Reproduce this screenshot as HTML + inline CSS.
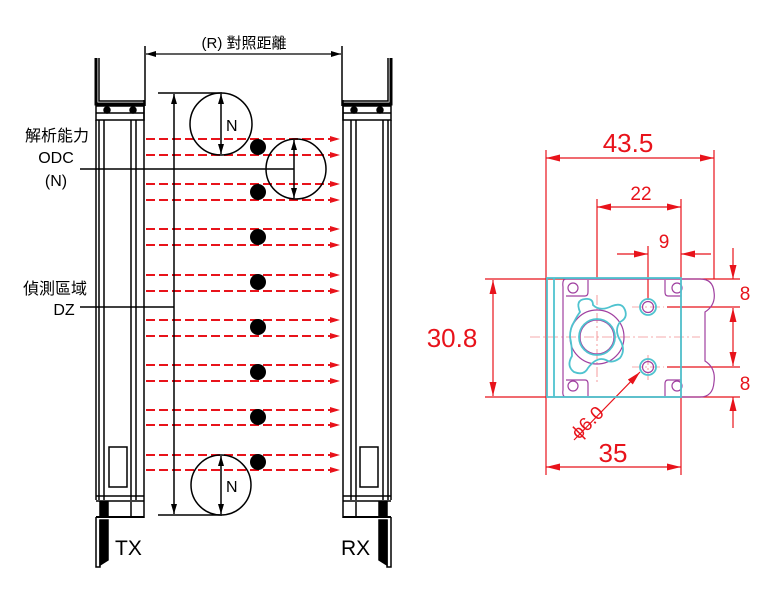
<!DOCTYPE html>
<html><head><meta charset="utf-8"><style>
html,body{margin:0;padding:0;background:#fff;width:782px;height:600px;overflow:hidden}
text{font-family:"Liberation Sans","Noto Sans CJK TC",sans-serif}
</style></head><body>
<svg width="782" height="600" viewBox="0 0 782 600" xmlns="http://www.w3.org/2000/svg">
<defs>
<marker id="ra" markerWidth="10" markerHeight="6" refX="10" refY="3" orient="auto" markerUnits="userSpaceOnUse"><path d="M0,0 L10,3 L0,6 z" fill="#e8131b"/></marker>
<marker id="ka" markerWidth="10" markerHeight="6" refX="10" refY="3" orient="auto-start-reverse" markerUnits="userSpaceOnUse"><path d="M0,0 L10,3 L0,6 z" fill="#000"/></marker>
<marker id="rd" markerWidth="14" markerHeight="7" refX="14" refY="3.5" orient="auto-start-reverse" markerUnits="userSpaceOnUse"><path d="M0,0 L14,3.5 L0,7 z" fill="#e8131b"/></marker>
<g id="bar" stroke="#000" stroke-width="1.5" fill="none">
<path d="M96,58 V104 H144" stroke-width="3"/>
<path d="M99,58 V101 H144"/>
<rect x="96" y="106" width="48" height="14"/>
<line x1="96" y1="113" x2="144" y2="113"/>
<circle cx="107" cy="110" r="3" fill="#000"/><circle cx="133" cy="110" r="3" fill="#000"/>
<line x1="96" y1="120" x2="96" y2="500"/><line x1="99" y1="120" x2="99" y2="500"/><line x1="104" y1="120" x2="104" y2="500"/>
<line x1="131" y1="120" x2="131" y2="500"/><line x1="136" y1="120" x2="136" y2="500"/><line x1="144" y1="100" x2="144" y2="518"/>
<rect x="109" y="447" width="18" height="40"/>
<line x1="96" y1="496" x2="144" y2="496"/><line x1="96" y1="501" x2="144" y2="501"/>
<rect x="100" y="502" width="8" height="15" fill="#000"/>
<line x1="131" y1="502" x2="131" y2="517"/>
<path d="M96,517 H144" stroke-width="2"/>
<path d="M96,517 V567 H100 V520" />
<path d="M100,520 H108 V560 L100,565 Z" fill="#000"/>
</g>
</defs>
<use href="#bar"/>
<use href="#bar" transform="translate(487,0) scale(-1,1)"/>
<line x1="145" y1="46" x2="145" y2="106" stroke="#000" stroke-width="1.5"/>
<line x1="342" y1="46" x2="342" y2="106" stroke="#000" stroke-width="1.5"/>
<line x1="146" y1="54" x2="341" y2="54" stroke="#000" stroke-width="1.2" marker-start="url(#ka)" marker-end="url(#ka)"/>
<text x="244" y="48" font-size="15" text-anchor="middle">(R) 對照距離</text>
<g stroke="#e8131b" stroke-width="2" stroke-dasharray="9,4" marker-end="url(#ra)">
<line x1="146" y1="139" x2="340" y2="139"/><line x1="146" y1="155" x2="340" y2="155"/>
<line x1="146" y1="184" x2="340" y2="184"/><line x1="146" y1="200" x2="340" y2="200"/>
<line x1="146" y1="229" x2="340" y2="229"/><line x1="146" y1="245" x2="340" y2="245"/>
<line x1="146" y1="275" x2="340" y2="275"/><line x1="146" y1="291" x2="340" y2="291"/>
<line x1="146" y1="320" x2="340" y2="320"/><line x1="146" y1="336" x2="340" y2="336"/>
<line x1="146" y1="365" x2="340" y2="365"/><line x1="146" y1="381" x2="340" y2="381"/>
<line x1="146" y1="410" x2="340" y2="410"/><line x1="146" y1="425" x2="340" y2="425"/>
<line x1="146" y1="455" x2="340" y2="455"/><line x1="146" y1="470" x2="340" y2="470"/>
</g>
<g fill="#000">
<circle cx="258" cy="147" r="8"/><circle cx="258" cy="192" r="8"/><circle cx="258" cy="237" r="8"/><circle cx="258" cy="282" r="8"/>
<circle cx="258" cy="327" r="8"/><circle cx="258" cy="372" r="8"/><circle cx="258" cy="417" r="8"/><circle cx="258" cy="462" r="8"/>
</g>
<g stroke="#000" stroke-width="1.5" fill="none">
<circle cx="221" cy="124" r="31"/><circle cx="296" cy="169" r="30"/><circle cx="221" cy="485" r="30"/>
<line x1="158" y1="93" x2="222" y2="93"/><line x1="158" y1="515" x2="222" y2="515"/>
<line x1="174" y1="94" x2="174" y2="514" marker-start="url(#ka)" marker-end="url(#ka)"/>
<line x1="221" y1="94" x2="221" y2="154" marker-start="url(#ka)" marker-end="url(#ka)"/>
<line x1="294" y1="140" x2="294" y2="198" marker-start="url(#ka)" marker-end="url(#ka)"/>
<line x1="221" y1="456" x2="221" y2="514" marker-start="url(#ka)" marker-end="url(#ka)"/>
<line x1="80" y1="169" x2="294" y2="169"/>
<line x1="80" y1="307" x2="174" y2="307"/>
</g>
<text x="226" y="131" font-size="16">N</text>
<text x="226" y="492" font-size="16">N</text>
<g font-size="16" text-anchor="middle">
<text x="57" y="141">解析能力</text><text x="56" y="163">ODC</text><text x="56" y="186">(N)</text>
<text x="55" y="294">偵測區域</text><text x="64" y="315">DZ</text>
</g>
<text x="115" y="555" font-size="21">TX</text>
<text x="341" y="555" font-size="21">RX</text>
<g stroke="#e8131b" stroke-width="1.2" fill="none">
<line x1="546" y1="150" x2="546" y2="475"/><line x1="714" y1="150" x2="714" y2="279"/>
<line x1="597" y1="199" x2="597" y2="279"/><line x1="681" y1="199" x2="681" y2="475"/>
<line x1="648" y1="246" x2="648" y2="300"/>
<line x1="546" y1="158" x2="714" y2="158" marker-start="url(#rd)" marker-end="url(#rd)"/>
<line x1="597" y1="207" x2="681" y2="207" marker-start="url(#rd)" marker-end="url(#rd)"/>
<line x1="617" y1="254" x2="648" y2="254" marker-end="url(#rd)"/>
<line x1="711" y1="254" x2="681" y2="254" marker-end="url(#rd)"/>
<line x1="485" y1="279" x2="740" y2="279"/><line x1="485" y1="397" x2="740" y2="397"/>
<line x1="493" y1="280" x2="493" y2="396" marker-start="url(#rd)" marker-end="url(#rd)"/>
<line x1="667" y1="307" x2="740" y2="307"/><line x1="667" y1="367" x2="740" y2="367"/>
<line x1="733" y1="248" x2="733" y2="279" marker-end="url(#rd)"/>
<line x1="733" y1="308" x2="733" y2="366" marker-start="url(#rd)" marker-end="url(#rd)"/>
<line x1="733" y1="428" x2="733" y2="397" marker-end="url(#rd)"/>
<line x1="546" y1="467" x2="681" y2="467" marker-start="url(#rd)" marker-end="url(#rd)"/>
<line x1="574" y1="440" x2="640" y2="372" marker-end="url(#rd)"/>
<g stroke-width="0.6" stroke-dasharray="10,3,2,3" opacity="0.7">
<line x1="530" y1="337" x2="700" y2="337"/><line x1="597" y1="295" x2="597" y2="385"/>
<line x1="632" y1="307" x2="664" y2="307"/><line x1="632" y1="367" x2="664" y2="367"/><line x1="648" y1="355" x2="648" y2="380"/>
</g>
</g>
<g fill="#e8131b" font-size="26" text-anchor="middle">
<text x="628" y="152">43.5</text>
<text x="452" y="347">30.8</text>
<text x="613" y="462">35</text>
</g>
<g fill="#e8131b" font-size="19" text-anchor="middle">
<text x="641" y="200">22</text><text x="664" y="248">9</text>
<text x="745" y="300">8</text><text x="745" y="390">8</text>
<text x="592" y="427" transform="rotate(-45 592 427)">ϕ6.0</text>
</g>
<g stroke="#a040a0" stroke-width="1.2" fill="none">
<path d="M566,279 H700 Q713,279 714,292 Q716,305 705,312 V361 Q716,368 714,382 Q713,397 700,397 H566 Q562,397 563,390 V287 Q562,279 566,279 Z"/>
<path d="M566,296 H585 Q588,296 588,292 V280 M566,380 H585 Q588,380 588,384 V396 M681,296 H668 Q665,296 665,292 V280 M681,380 H668 Q665,380 665,384 V396"/>
<circle cx="573" cy="288" r="5"/><circle cx="677" cy="288" r="5"/><circle cx="573" cy="386" r="5"/><circle cx="677" cy="386" r="5"/>
<circle cx="597" cy="337" r="27"/><circle cx="597" cy="337" r="17"/>
<circle cx="648" cy="307" r="5.5"/><circle cx="648" cy="367" r="5.5"/>
</g>
<g stroke="#4fc3cf" stroke-width="1.8" fill="none">
<rect x="547" y="278" width="134" height="119"/>
<line x1="554" y1="278" x2="554" y2="397"/>
<circle cx="648" cy="307" r="8"/><circle cx="648" cy="367" r="8"/>
<circle cx="597" cy="337" r="18"/>
<path d="M580,312 Q575,300 585,299 Q593,298 593,305 Q600,312 612,306 Q622,302 625,310 Q628,318 620,322 Q614,330 620,340 Q626,350 620,358 Q612,364 606,360 Q597,356 588,368 Q584,376 574,372 Q566,366 572,356 Q572,346 570,337 Q570,328 574,322 Q577,316 580,312 Z"/>
</g>
</svg>
</body></html>
